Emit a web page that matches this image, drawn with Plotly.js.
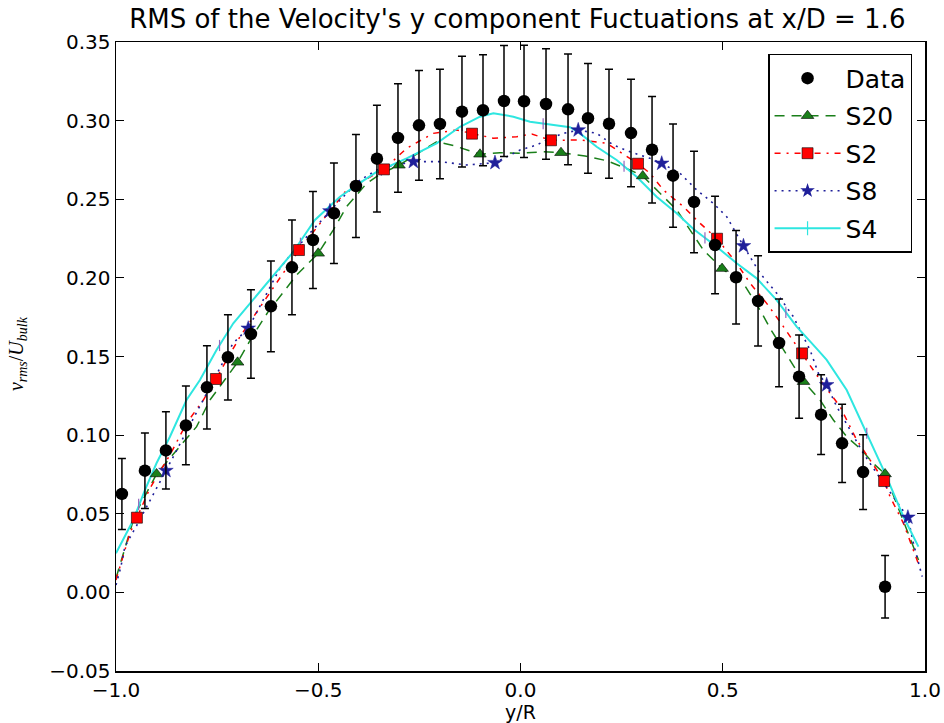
<!DOCTYPE html>
<html>
<head>
<meta charset="utf-8">
<script src="https://cdn.plot.ly/plotly-3.0.1.min.js"></script>
<style>html,body{margin:0;padding:0;background:#fff;}#chart{width:944px;height:723px;}</style>
</head>
<body>
<div id="chart"></div>
<script>
// ---- Experimental data (black circles with error bars) ----
var dataX = [-0.9854,-0.9285,-0.8766,-0.8272,-0.7752,-0.7233,-0.6664,-0.6170,-0.5650,-0.5131,-0.4612,-0.4068,-0.3549,-0.3029,-0.2510,-0.1991,-0.1447,-0.0927,-0.0408,0.0087,0.0631,0.1175,0.1669,0.2188,0.2732,0.3252,0.3771,0.4290,0.4810,0.5329,0.5873,0.6392,0.6887,0.7431,0.7950,0.8469,0.9013];
var dataY = [0.0626,0.0774,0.0903,0.1062,0.1304,0.1495,0.1643,0.1819,0.2067,0.2241,0.2411,0.2584,0.2758,0.2890,0.2970,0.2979,0.3057,0.3066,0.3125,0.3123,0.3106,0.3072,0.3015,0.2980,0.2921,0.2815,0.2650,0.2483,0.2209,0.2004,0.1853,0.1586,0.1372,0.1130,0.0948,0.0765,0.0036];
var dataErr = [0.0226,0.0240,0.0245,0.0251,0.0265,0.0271,0.0281,0.0289,0.0301,0.0308,0.0319,0.0328,0.0339,0.0345,0.0349,0.0348,0.0352,0.0353,0.0353,0.0357,0.0351,0.0352,0.0349,0.0347,0.0342,0.0339,0.0328,0.0323,0.0310,0.0297,0.0287,0.0279,0.0265,0.0254,0.0249,0.0238,0.0199];

// ---- S20 (green dashed, triangles) ----
var s20LineX = [-1.0,-0.9533,-0.8997,-0.8504,-0.8007,-0.7678,-0.6994,-0.6608,-0.6237,-0.5535,-0.5001,-0.4630,-0.4298,-0.3804,-0.3433,-0.3005,-0.2073,-0.1620,-0.1002,-0.0507,-0.0012,0.0564,0.1001,0.1595,0.2132,0.2708,0.3022,0.3450,0.3863,0.4521,0.4983,0.5551,0.5922,0.6170,0.6707,0.6996,0.7406,0.7735,0.8064,0.8438,0.8717,0.9013,0.9840];
var s20LineY = [0.0091,0.0492,0.0753,0.0905,0.1054,0.1223,0.1463,0.1637,0.1785,0.2018,0.2156,0.2304,0.2453,0.2601,0.2665,0.2716,0.2866,0.2839,0.2786,0.2796,0.2792,0.2802,0.2796,0.2775,0.2745,0.2686,0.2648,0.2538,0.2432,0.2177,0.2059,0.1948,0.1796,0.1679,0.1457,0.1340,0.1223,0.1096,0.0990,0.0905,0.0821,0.0753,0.0206];
var s20MarkX = [-0.8997,-0.6994,-0.5001,-0.3005,-0.1002,0.1001,0.3022,0.4983,0.6996,0.9013];
var s20MarkY = [0.0753,0.1463,0.2156,0.2716,0.2786,0.2796,0.2648,0.2059,0.1340,0.0753];

// ---- S2 (red dash-dot, squares) ----
var s2LineX = [-1.0,-0.9820,-0.9656,-0.9483,-0.9162,-0.8667,-0.8257,-0.7841,-0.7530,-0.6936,-0.6484,-0.6029,-0.5477,-0.4298,-0.3375,-0.2815,-0.2157,-0.1578,-0.1199,-0.0670,-0.0095,0.0279,0.0754,0.1471,0.2129,0.2460,0.2905,0.3202,0.3532,0.4026,0.4439,0.4859,0.5344,0.5675,0.6086,0.6499,0.6961,0.7406,0.7901,0.8311,0.8642,0.8989,0.9137,0.9468,0.9840];
var s2LineY = [0.0079,0.0227,0.0376,0.0475,0.0662,0.0874,0.1075,0.1223,0.1357,0.1626,0.1796,0.1965,0.2177,0.2559,0.2690,0.2824,0.2919,0.2940,0.2917,0.2888,0.2898,0.2915,0.2875,0.2877,0.2856,0.2802,0.2726,0.2665,0.2559,0.2453,0.2347,0.2249,0.2093,0.1966,0.1838,0.1690,0.1520,0.1351,0.1181,0.0969,0.0842,0.0708,0.0608,0.0439,0.0180];
var s2MarkX = [-0.9483,-0.7530,-0.5477,-0.3375,-0.1199,0.0754,0.2905,0.4859,0.6961,0.8989];
var s2MarkY = [0.0475,0.1357,0.2177,0.2690,0.2917,0.2875,0.2726,0.2249,0.1520,0.0708];

// ---- S8 (blue dotted, stars) ----
var s8LineX = [-1.0,-0.9879,-0.9780,-0.9483,-0.8766,-0.7109,-0.6731,-0.6367,-0.5947,-0.5658,-0.5287,-0.4711,-0.4463,-0.3969,-0.3474,-0.2648,-0.1991,-0.1331,-0.0631,-0.0012,0.0400,0.0729,0.1059,0.1427,0.1884,0.2295,0.2708,0.3202,0.3491,0.3944,0.4357,0.4768,0.5098,0.5512,0.5922,0.6335,0.6746,0.7159,0.7364,0.7569,0.7818,0.8148,0.8477,0.8808,0.9219,0.9577,0.9714,0.9930];
var s8LineY = [0.0047,0.0163,0.0291,0.0428,0.0774,0.1584,0.1679,0.1859,0.2061,0.2156,0.2262,0.2425,0.2495,0.2622,0.2697,0.2739,0.2739,0.2718,0.2732,0.2813,0.2845,0.2888,0.2919,0.2940,0.2919,0.2845,0.2802,0.2760,0.2728,0.2665,0.2559,0.2474,0.2389,0.2203,0.2029,0.1902,0.1753,0.1541,0.1393,0.1319,0.1181,0.1033,0.0884,0.0757,0.0608,0.0477,0.0312,0.0100];
var s8MarkX = [-0.8766,-0.6731,-0.4711,-0.2648,-0.0631,0.1427,0.3491,0.5512,0.7569,0.9577];
var s8MarkY = [0.0774,0.1679,0.2425,0.2739,0.2732,0.2940,0.2728,0.2203,0.1319,0.0477];

// ---- S4 (cyan solid, + marks) ----
var s4LineX = [-1.0,-0.9572,-0.9285,-0.8999,-0.8667,-0.8257,-0.7925,-0.7515,-0.7100,-0.6689,-0.6194,-0.5616,-0.5082,-0.4463,-0.4043,-0.3549,-0.2815,-0.2073,-0.1496,-0.1002,-0.0670,-0.0176,0.0235,0.1224,0.1471,0.1882,0.2376,0.2871,0.3365,0.3860,0.4275,0.4849,0.5344,0.5838,0.6333,0.6827,0.7322,0.7569,0.8064,0.8558,0.9013,0.9468,0.9837];
var s4LineY = [0.0249,0.0460,0.0651,0.0821,0.0990,0.1223,0.1351,0.1541,0.1711,0.1838,0.1986,0.2166,0.2368,0.2516,0.2591,0.2675,0.2760,0.2856,0.2961,0.3025,0.3047,0.3025,0.2993,0.2958,0.2919,0.2834,0.2750,0.2643,0.2516,0.2411,0.2311,0.2198,0.2093,0.1997,0.1859,0.1690,0.1550,0.1478,0.1287,0.1012,0.0757,0.0481,0.0291];
var s4MarkX = [-0.944,-0.744,-0.544,-0.344,-0.144,0.056,0.256,0.456,0.656,0.856];
var s4MarkY = [0.0560,0.1570,0.2220,0.2685,0.2970,0.2980,0.2710,0.2255,0.1780,0.1012];

var cGreen = '#1a7f1a', cRed = '#ff0000', cBlue = '#1f1f9a', cCyan = '#2ee6e0';

var traces = [
  {x:s20LineX, y:s20LineY, mode:'lines', line:{color:cGreen, width:1.5, dash:'10px,7px'}, showlegend:false, hoverinfo:'skip'},
  {x:s2LineX, y:s2LineY, mode:'lines', line:{color:cRed, width:1.5, dash:'6px,6px,2px,6px'}, showlegend:false, hoverinfo:'skip'},
  {x:s8LineX, y:s8LineY, mode:'lines', line:{color:cBlue, width:1.6, dash:'2px,5px'}, showlegend:false, hoverinfo:'skip'},
  {x:s4LineX, y:s4LineY, mode:'lines', line:{color:cCyan, width:2}, showlegend:false, hoverinfo:'skip'},
  {x:s4MarkX, y:s4MarkY, mode:'markers', marker:{symbol:'line-ns-open', size:8, line:{color:cCyan, width:1.2}}, showlegend:false},
  {x:s20MarkX, y:s20MarkY, mode:'markers', marker:{symbol:'triangle-up', size:11, color:cGreen, line:{color:'#000', width:0.6}}, showlegend:false},
  {x:s2MarkX, y:s2MarkY, mode:'markers', marker:{symbol:'square', size:11, color:cRed, line:{color:'#000', width:0.6}}, showlegend:false},
  {x:s8MarkX, y:s8MarkY, mode:'markers', marker:{symbol:'star', size:11, color:cBlue, line:{color:cBlue, width:0.5}}, showlegend:false},
  {x:dataX, y:dataY, mode:'markers', name:'Data', legendgroup:'a',
   marker:{symbol:'circle', size:12.5, color:'#000'},
   error_y:{type:'data', array:dataErr, visible:true, color:'#000', thickness:1.5, width:4}},
  {x:[null], y:[null], mode:'lines+markers', name:'S20', legendgroup:'b', line:{color:cGreen, width:1.5, dash:'10px,7px'}, marker:{symbol:'triangle-up', size:11, color:cGreen, line:{color:'#000', width:0.6}}},
  {x:[null], y:[null], mode:'lines+markers', name:'S2', legendgroup:'c', line:{color:cRed, width:1.5, dash:'6px,6px,2px,6px'}, marker:{symbol:'square', size:11, color:cRed, line:{color:'#000', width:0.6}}},
  {x:[null], y:[null], mode:'lines+markers', name:'S8', legendgroup:'d', line:{color:cBlue, width:1.6, dash:'2px,5px'}, marker:{symbol:'star', size:11, color:cBlue}},
  {x:[null], y:[null], mode:'lines+markers', name:'S4', legendgroup:'e', line:{color:cCyan, width:2}, marker:{symbol:'line-ns-open', size:10, line:{color:cCyan, width:1.2}}}
];

var axisCommon = {
  showline:true, linecolor:'#000', linewidth:1.5, mirror:'allticks',
  ticks:'inside', ticklen:8, tickwidth:1, tickcolor:'#000',
  showgrid:false, zeroline:false,
  tickfont:{family:'DejaVu Sans', size:20, color:'#000'}
};

var layout = {
  width:944, height:723,
  paper_bgcolor:'#fff', plot_bgcolor:'#fff',
  margin:{l:116, r:19, t:42, b:52},
  font:{family:'DejaVu Sans', color:'#000'},
  title:{text:"RMS of the Velocity's y component Fuctuations at x/D = 1.6",
         font:{family:'DejaVu Sans', size:26, color:'#000'},
         x:0.548, xanchor:'center', y:0.974, yanchor:'middle'},
  xaxis:Object.assign({}, axisCommon, {
    range:[-1,1], tickvals:[-1,-0.5,0,0.5,1], tickformat:'.1f',
    title:{text:'y/R', font:{family:'DejaVu Sans', size:19, color:'#000'}, standoff:4}
  }),
  yaxis:Object.assign({}, axisCommon, {
    range:[-0.05,0.35], dtick:0.05, tick0:0, tickformat:'.2f'
  }),
  annotations:[{
    text:'<i>v</i><sub><i>rms</i></sub>/<i>U</i><sub><i>bulk</i></sub>',
    xref:'paper', yref:'paper', x:-0.121, y:0.504, xanchor:'center', yanchor:'middle',
    textangle:-90, showarrow:false,
    font:{family:'Liberation Serif', size:20, color:'#000'}
  }],
  showlegend:true,
  legend:{x:0.984, xanchor:'right', y:0.981, yanchor:'top',
          bgcolor:'#fff', bordercolor:'#000', borderwidth:1.5,
          font:{family:'DejaVu Sans', size:25, color:'#000'},
          traceorder:'grouped', tracegroupgap:2, itemwidth:66}
};

Plotly.newPlot('chart', traces, layout, {displayModeBar:false, staticPlot:true});
</script>
</body>
</html>
